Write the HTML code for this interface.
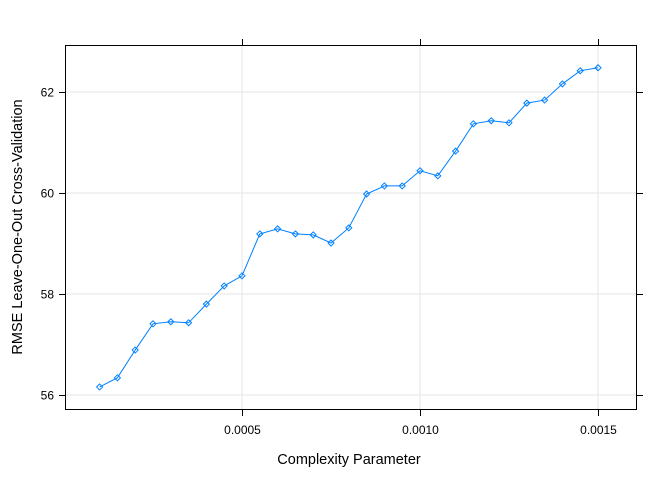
<!DOCTYPE html>
<html><head><meta charset="utf-8"><style>
body{margin:0;background:#fff;}
svg{display:block;font-family:"Liberation Sans",Arial,sans-serif;}
</style></head><body>
<svg id="c" width="672" height="480"></svg>
<script>
const xValues=[0.0001,0.00015,0.0002,0.00025,0.0003,0.00035,0.0004,0.00045,0.0005,0.00055,0.0006,0.00065,0.0007,0.00075,0.0008,0.00085,0.0009,0.00095,0.001,0.00105,0.0011,0.00115,0.0012,0.00125,0.0013,0.00135,0.0014,0.00145,0.0015];
const rmseValues=[56.16,56.34,56.89,57.41,57.45,57.43,57.80,58.16,58.36,59.19,59.29,59.19,59.17,59.01,59.31,59.98,60.14,60.14,60.44,60.34,60.83,61.37,61.43,61.39,61.78,61.84,62.16,62.42,62.48];
const xTicks=[0.0005,0.0010,0.0015];
const xTickLabels=["0.0005","0.0010","0.0015"];
const yTicks=[56,58,60,62];
const yTickLabels=["56","58","60","62"];
const L=65,R=637,T=45,B=410;
const sx=v=>242+(v-0.0005)*356000;
const sy=v=>395-(v-56)*50.5;
const NS="http://www.w3.org/2000/svg";
const svg=document.getElementById('c');
function mk(t,a,p){const e=document.createElementNS(NS,t);for(const k in a)e.setAttribute(k,a[k]);(p||svg).appendChild(e);return e;}
const grid=mk('g',{});


xTicks.forEach(v=>mk('line',{x1:sx(v),x2:sx(v),y1:T,y2:B,stroke:'#e6e6e6'},grid));
yTicks.forEach(v=>mk('line',{x1:L,x2:R,y1:sy(v),y2:sy(v),stroke:'#e6e6e6'},grid));
const ax=mk('g',{stroke:'#000','stroke-width':1});


mk('rect',{x:L+0.5,y:T+0.5,width:R-L-1,height:B-T-1,fill:'none'},ax);
xTicks.forEach((v,i)=>{const x=Math.round(sx(v))+0.5;
 mk('line',{x1:x,x2:x,y1:B,y2:B+6},ax);mk('line',{x1:x,x2:x,y1:T,y2:T-6},ax);
 const t=mk('text',{x:x,y:B+24,'text-anchor':'middle','font-size':12,fill:'#000',stroke:'none'});
 
 
 t.textContent=xTickLabels[i];});
yTicks.forEach((v,i)=>{const y=Math.round(sy(v))+0.5;
 mk('line',{x1:L,x2:L-6,y1:y,y2:y},ax);mk('line',{x1:R,x2:R+6,y1:y,y2:y},ax);
 const t=mk('text',{x:L-11,y:y+4,'text-anchor':'end','font-size':12,fill:'#000',stroke:'none'});
 
 
 t.textContent=yTickLabels[i];});
const line=mk('polyline',{points:xValues.map((v,i)=>sx(v)+','+sy(rmseValues[i])).join(' '),fill:'none',stroke:'#0080ff','stroke-width':1});


xValues.forEach((v,i)=>{const x=sx(v),y=sy(rmseValues[i]);
 const p=mk('polygon',{points:`${x},${y-3} ${x+3},${y} ${x},${y+3} ${x-3},${y}`,fill:'none',stroke:'#0080ff','stroke-width':1});
 
 });
const xt=mk('text',{x:349,y:464,'text-anchor':'middle','font-size':14.5,fill:'#000'});


xt.textContent='Complexity Parameter';
const yt=mk('text',{x:0,y:0,'text-anchor':'middle','font-size':14.5,fill:'#000',transform:'translate(22,227) rotate(-90)'});


yt.textContent='RMSE Leave-One-Out Cross-Validation';
</script>
</body></html>
